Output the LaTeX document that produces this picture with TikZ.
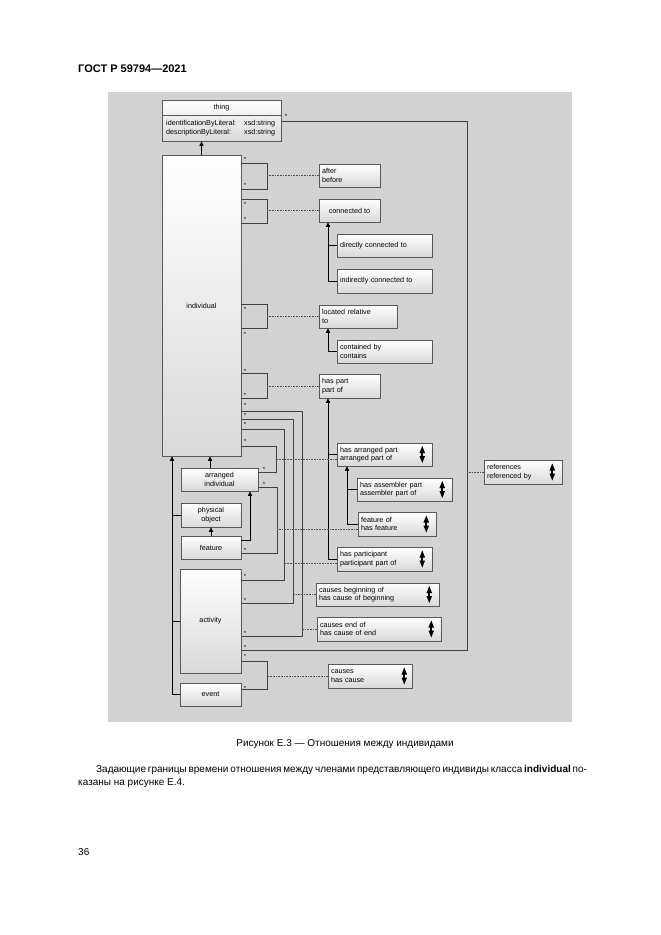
\documentclass[tikz,border=0pt]{standalone}
\usepackage{fontspec}
\setmainfont{Liberation Sans}
\usetikzlibrary{arrows.meta,shadows}

\tikzset{
  updown/.pic={
    \fill[black] (-2.8,-1.5) -- (2.8,-1.5) -- (0,-8.5) -- cycle;
    \fill[black] (-0.9,-1.8) rectangle (0.9,1.8);
    \fill[black] (-2.8,1.5) -- (2.8,1.5) -- (0,8.5) -- cycle;
  }
}

\begin{document}
\begin{tikzpicture}[x=1pt,y=-1pt,
  every node/.style={font=\fontsize{7.2}{8.6}\selectfont},
  box/.style={draw=black!65, line width=0.5pt, top color=white, bottom color=gray!30,
    inner ysep=0pt, drop shadow={shadow xshift=1.2pt, shadow yshift=-1.2pt, opacity=0.45}},
  cls/.style 2 args={box, align=center, inner xsep=0pt, minimum width=#1, minimum height=#2},
  rel/.style 2 args={box, align=left, inner xsep=3pt, text width=#1, minimum height=#2},
  mult/.style={font=\fontsize{6}{6}\selectfont, inner sep=0pt},
  isa/.style={-{Triangle[length=4.5pt,width=4pt]}, line width=0.9pt, black},
  isaline/.style={line width=0.9pt, black},
  assoc/.style={line width=0.6pt, black!75},
  link/.style={densely dotted, line width=0.6pt, black!70}
]
\useasboundingbox (0,0) rectangle (661,935);

% page text
\node[anchor=base west, inner sep=0pt, font=\fontsize{11}{13}\selectfont\bfseries] (gost) at (78,72) {ГОСТ Р 59794—2021};
\fill[gray!35] (108,92) rectangle (572,722);

% classes
\node[cls={119pt}{41pt}] (thing) at (221.5,120.5) {};
\draw[black!65, line width=0.5pt] (thing.west |- 0,115) -- (thing.east |- 0,115);
\node (thinglabel) at (221.5,107.5) {thing};
\node[anchor=west, inner sep=0pt] (thingattr) at (166,128.5) {%
  \begin{tabular}{@{}l@{\hspace{8pt}}l@{}}
  identificationByLiteral: & xsd:string\\
  descriptionByLiteral: & xsd:string
  \end{tabular}};
\node[cls={79pt}{301pt}] (individual) at (201.5,305.5) {individual};
\node[cls={77pt}{23pt}] (arrind) at (219.5,479.5) {arranged\\individual};
\node[cls={60pt}{24pt}] (physobj) at (211,515) {physical\\object};
\node[cls={60pt}{23pt}] (feature) at (211,547.5) {feature};
\node[cls={61pt}{104pt}] (activity) at (210.5,621) {activity};
\node[cls={61pt}{23pt}] (event) at (210.5,694.5) {event};

% relations
\node[rel={55pt}{23pt}] (after) at (349.5,175.5) {after\\before};
\node[cls={61pt}{23pt}] (connected) at (349.5,210.5) {connected to};
\node[rel={89pt}{23pt}] (directly) at (384.5,245.5) {directly connected to};
\node[rel={89pt}{24pt}] (indirectly) at (384.5,281) {indirectly connected to};
\node[rel={72pt}{23pt}] (located) at (358,316.5) {located relative\\to};
\node[rel={89pt}{23pt}] (contained) at (384.5,351.5) {contained by\\contains};
\node[rel={55pt}{24pt}] (haspart) at (349.5,386) {has part\\part of};
\node[rel={89pt}{23pt}] (arrpart) at (384.5,454.5) {has arranged part\\arranged part of};
\node[rel={89pt}{23pt}] (assembler) at (404.5,489.5) {has assembler part\\assembler part of};
\node[rel={72pt}{24pt}] (featof) at (397,524) {feature of\\has feature};
\node[rel={89pt}{24pt}] (particip) at (384.5,559) {has participant\\participant part of};
\node[rel={117pt}{23pt}] (causesbeg) at (377.5,594.5) {causes beginning of\\has cause of beginning};
\node[rel={118pt}{24pt}] (causesend) at (379,629) {causes end of\\has cause of end};
\node[rel={78pt}{24pt}] (causes) at (370,676) {causes\\has cause};
\node[rel={72pt}{24pt}] (references) at (523,472) {references\\referenced by};

\foreach \r in {arrpart,assembler,featof,particip,causesbeg,causesend,references}
  \pic at ([xshift=-10pt]\r.east) {updown};
\pic at ([xshift=-8pt]causes.east) {updown};

% subclass arrows
\draw[isa] (individual.north) -- (individual.north |- thing.south);
\draw[isa] (arrind.north -| 210,0) -- (individual.south -| 210,0);
\draw[isa] (event.west) -| (individual.south -| 172,0);
\draw[isaline] (physobj.west) -- (physobj.west -| 172,0);
\draw[isaline] (activity.west) -- (activity.west -| 172,0);
\draw[isa] (feature.north) -- (physobj.south);
\draw[isa] (feature.east |- 0,540) -| (arrind.south -| 250,0);
\draw[isa] (indirectly.west) -| (connected.south -| 328,0);
\draw[isaline] (directly.west) -- (directly.west -| 328,0);
\draw[isa] (contained.west) -| (located.south -| 328,0);
\draw[isa] (particip.west) -| (haspart.south -| 328,0);
\draw[isaline] (arrpart.west) -- (arrpart.west -| 328,0);
\draw[isa] (featof.west) -| (arrpart.south -| 347,0);
\draw[isaline] (assembler.west) -- (assembler.west -| 347,0);

% associations
\draw[assoc] (individual.east |- 0,163) -| (267,189) -- (individual.east |- 0,189);
\draw[assoc] (individual.east |- 0,199) -| (267,223) -- (individual.east |- 0,223);
\draw[assoc] (individual.east |- 0,304) -| (267,328) -- (individual.east |- 0,328);
\draw[assoc] (individual.east |- 0,373) -| (267,398) -- (individual.east |- 0,398);
\draw[assoc] (individual.east |- 0,411) -| (302,636) -- (activity.east |- 0,636);
\draw[assoc] (individual.east |- 0,419) -| (293,603) -- (activity.east |- 0,603);
\draw[assoc] (individual.east |- 0,429) -| (284,580) -- (activity.east |- 0,580);
\draw[assoc] (individual.east |- 0,446) -| (276,472) -- (arrind.east |- 0,472);
\draw[assoc] (arrind.east |- 0,487) -| (277,553) -- (feature.east |- 0,553);
\draw[assoc] (thing.east |- 0,121) -| (467,650) -- (activity.east |- 0,650);
\draw[assoc] (activity.east |- 0,661) -| (267,689) -- (event.east |- 0,689);

% association classes
\draw[link] (after.west) -- (after.west -| 267,0);
\draw[link] (connected.west) -- (connected.west -| 267,0);
\draw[link] (located.west) -- (located.west -| 267,0);
\draw[link] (haspart.west) -- (haspart.west -| 267,0);
\draw[link] (arrpart.west |- 0,459) -- (276,459);
\draw[link] (featof.west |- 0,529) -- (277,529);
\draw[link] (particip.west |- 0,563) -- (284,563);
\draw[link] (causesbeg.west) -- (causesbeg.west -| 293,0);
\draw[link] (causesend.west) -- (causesend.west -| 302,0);
\draw[link] (causes.west) -- (causes.west -| 267,0);
\draw[link] (references.west) -- (references.west -| 467,0);

% multiplicities
\foreach \y [count=\i] in {158,184,203,218,308,333,370,394,404,414,423,440,549,575,599,632,646,655,687}
  \node[mult] (star\i) at (245,\y+1) {*};
\node[mult] (star20) at (264,469) {*};
\node[mult] (star21) at (264,484) {*};
\node[mult] (star22) at (286,116) {*};

% caption and text
\node[anchor=base, inner sep=0pt, font=\fontsize{10}{12}\selectfont] (caption) at (345,746) {Рисунок Е.3 — Отношения между индивидами};
\node[anchor=base west, inner sep=0pt, font=\fontsize{10}{13}\selectfont] (para1) at (96,772)
  {\makebox[482pt][s]{Задающие границы времени отношения между членами представляющего индивиды класса \textbf{individual} по-}};
\node[anchor=base west, inner sep=0pt, font=\fontsize{10}{13}\selectfont] (para2) at (78,785) {казаны на рисунке Е.4.};
\node[anchor=base west, inner sep=0pt, font=\fontsize{10}{13}\selectfont] (pagenum) at (78,855) {36};
\end{tikzpicture}
\end{document}
